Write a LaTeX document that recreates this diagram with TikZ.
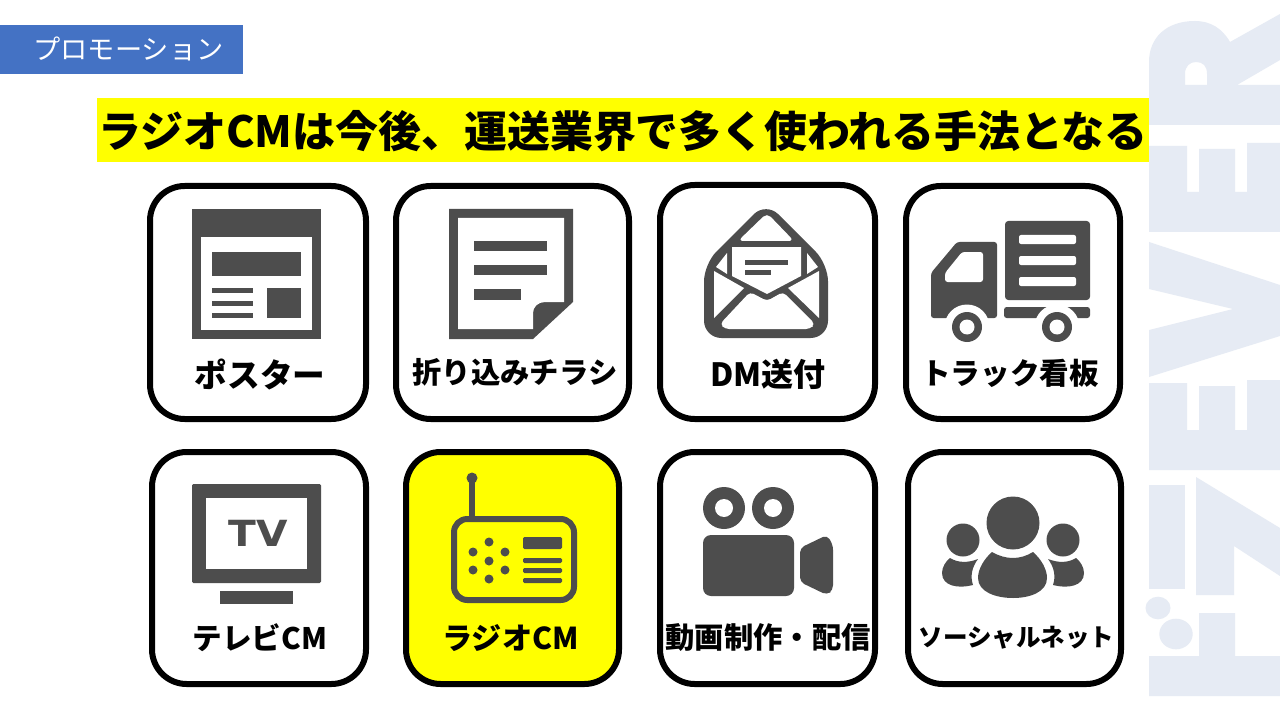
\documentclass[tikz,border=0pt]{standalone}
\usepackage{fontspec}
\setmainfont{Noto Sans CJK JP}
\newfontfamily\tvfont[FakeStretch=1.13]{DejaVu Sans}
\usetikzlibrary{positioning}
\definecolor{icongray}{HTML}{4D4D4D}
\definecolor{bannerblue}{HTML}{4472C4}
\definecolor{markyellow}{HTML}{FFFF00}
\definecolor{logopale}{HTML}{E6EBF4}
\newcommand{\sized}[1]{\fontsize{#1}{#1}\selectfont}
\tikzset{
	iconbox/.style={draw=black,line width=4.5pt,rounded corners=26pt,fill=white},
	cardlabel/.style={font=\bfseries,inner sep=0pt,text=black},
	ink/.style={fill=icongray,draw=none},
	hole/.style={fill=white,draw=none},
	logo/.style={fill=logopale,draw=none}
}
\begin{document}
\begin{tikzpicture}[x=0.75pt,y=-0.75pt]
\path[use as bounding box] (0,0) rectangle (1280,720);
\fill[white] (0,0) rectangle (1280,720);

\path[logo,even odd rule] (1149,125) -- (1280,125) -- (1280,85) -- (1237,85) -- (1280,60) -- (1280,14) -- (1230,42) .. controls (1222,28) and (1210,21) .. (1195,21) .. controls (1166,21) and (1149,38) .. (1149,62) -- cycle
	(1185,85) -- (1185,74) .. controls (1185,66) and (1190,62) .. (1196,62) .. controls (1203,62) and (1207,66) .. (1207,74) -- (1207,85) -- cycle;
\path[logo] (1149,232) -- (1149,146) -- (1187,146) -- (1187,192) -- (1199,192) -- (1199,149) -- (1235,149) -- (1235,192) -- (1247,192) -- (1247,143) -- (1280,143) -- (1280,232) -- cycle;
\path[logo] (1149,242) -- (1280,285) -- (1280,336) -- (1149,377) -- (1149,330) -- (1233,309) -- (1149,289) -- cycle;
\path[logo] (1149,470) -- (1149,383) -- (1187,383) -- (1187,430) -- (1199,430) -- (1199,386) -- (1235,386) -- (1235,430) -- (1247,430) -- (1247,380) -- (1280,380) -- (1280,470) -- cycle;
\path[logo] (1149,485) rectangle (1185,589);
\path[logo] (1196,477) -- (1280,528) -- (1280,576) -- (1234,546) -- (1234,595) -- (1196,595) -- cycle;
\path[logo] (1158,608) ellipse[x radius=12.5,y radius=11.3];
\path[logo] (1176,634) ellipse[x radius=16.7,y radius=15.3];
\path[logo] (1149,696) -- (1149,656) -- (1199,656) -- (1199,613) -- (1235,613) -- (1235,656) -- (1280,656) -- (1280,696) -- cycle;

\node[fill=bannerblue,minimum width=243*0.75pt,minimum height=49*0.75pt,inner sep=0pt,outer sep=0pt] (banner) at (121.5,49.5) {};
\node[text=white,font=\sized{20.4pt},inner sep=0pt] (bannertext) at (128.5,48.5) {プロモーション};
\node[fill=markyellow,minimum width=1052*0.75pt,minimum height=64*0.75pt,inner sep=0pt,outer sep=0pt] (headline) at (623,130) {};
\node[font=\bfseries\sized{32.2pt},inner sep=0pt,text=black] (headlinetext) at (623,131) {ラジオCMは今後、運送業界で多く使われる手法となる};

\foreach \cx/\cy/\w/\h/\n in {258/302.5/216/233/poster,512.5/302.5/233/233/flyer,767.5/302/215/234/mail,1013/302.5/214/233/truck,259/568/214/232/tv,767.5/568/215/232/movie,1014.5/568/213/232/sns}
	\node[iconbox,minimum width=\w*0.75pt,minimum height=\h*0.75pt] (\n) at (\cx,\cy) {};
\node[iconbox,fill=markyellow,minimum width=213*0.75pt,minimum height=232*0.75pt] (radio) at (512.5,568) {};

\foreach \x/\y/\s/\t/\n in {260/374/24.5/ポスター/Lposter,515/372/22/折り込みチラシ/Lflyer,768/374/24/DM送付/Lmail,1010/373/22.2/トラック看板/Ltruck,260/638/22.2/テレビCM/Ltv,510.5/638/22.6/ラジオCM/Lradio,768/638/22/動画制作・配信/Lmovie,1016.5/638/18.4/ソーシャルネット/Lsns}
	\node[cardlabel,font=\bfseries\sized{\s pt}] (\n) at (\x,\y) {\t};

\path[ink] (192,209) rectangle (321,339);
\path[hole] (201,237) rectangle (312,330);
\path[ink] (212,252) rectangle (301,276);
\foreach \y in {288,301,313}
	\path[ink] (212,\y) rectangle (253,\y+4.5);
\path[ink] (267,288) rectangle (301,318);

\path[ink] (449,209) -- (573,209) -- (573,302) -- (533,339) -- (449,339) -- cycle;
\path[hole] (458,218) -- (564,218) -- (564,302) -- (545,302) .. controls (538,302) and (533,307) .. (533,313) -- (533,329) -- (458,329) -- cycle;
\path[ink] (474,241) rectangle (547,251);
\path[ink] (474,265) rectangle (547,275);
\path[ink] (474,289) rectangle (521,300);

\path[ink,rounded corners=13pt] (766,202) -- (704,264) -- (704,338) -- (828,338) -- (828,264) -- cycle;
\path[hole,rounded corners=4pt] (738,241) -- (767,213) -- (794,241) -- cycle;
\path[hole] (716,267) -- (727,253) -- (727,274) -- cycle;
\path[hole] (818,267) -- (807,253) -- (807,274) -- cycle;
\path[hole] (732,247) -- (801,247) -- (801,276) -- (767,294) -- (732,276) -- cycle;
\path[ink] (745,260) rectangle (788,265);
\path[ink] (745,270) rectangle (771,275);
\path[hole] (714,271) -- (744,288) -- (714,318) -- cycle;
\path[hole] (819,271) -- (788,288) -- (819,318) -- cycle;
\path[hole,rounded corners=3pt] (720,324) -- (750,292) -- (767,301) -- (783,292) -- (815,324) -- (810,329) -- (725,329) -- cycle;

\path[ink,rounded corners=2.5pt] (1005,221) rectangle (1090,300);
\foreach \y in {235,256,277}
	\path[hole,rounded corners=1.5pt] (1019,\y) rectangle (1076,\y+9);
\path[ink,rounded corners=2pt] (931,273) -- (957,242) -- (997,242) -- (997,318) -- (931,318) -- cycle;
\path[hole,rounded corners=2pt] (945,273) -- (962,252) -- (983,252) -- (983,282) -- (945,282) -- cycle;
\path[ink,rounded corners=2pt] (1004,307) rectangle (1090,318);
\foreach \x in {967,1057} {
	\path[hole] (\x,327) circle[radius=22.5];
	\path[ink] (\x,327) circle[radius=15];
	\path[hole] (\x,327) circle[radius=7.5];
}

\path[ink,rounded corners=1pt] (192,484) rectangle (321,583);
\path[hole] (206,498) rectangle (307,569);
\path[ink] (220,591) rectangle (293,604);
\node[font=\tvfont\bfseries\sized{27pt},text=icongray,inner sep=0pt] (tvmark) at (258.5,533.5) {TV};

\draw[icongray,line width=4.5pt,rounded corners=10pt] (454,519) rectangle (574,600);
\draw[icongray,line width=4.5pt] (472,478) -- (472,516);
\path[ink] (472,478) circle[radius=5.5];
\foreach \x/\y in {489/542,473/552,505/552,489/561,473/570,505/570,489/579}
	\path[ink] (\x,\y) circle[radius=4.5];
\path[ink,rounded corners=1pt] (523,537) rectangle (562,549);
\foreach \y in {558,568,578}
	\path[ink,rounded corners=1pt] (523,\y) rectangle (562,\y+5);

\foreach \x in {724,773} {
	\path[ink] (\x,508) circle[radius=21];
	\path[hole] (\x,508) circle[radius=9];
}
\path[ink,rounded corners=6pt] (703,535) rectangle (794,596);
\path[ink,rounded corners=3.5pt] (800,548) -- (827,535) -- (833,545) -- (833,590) -- (827,595) -- (800,582) -- cycle;

\path[ink] (1013,523) circle[radius=26.5];
\path[ink] (992,552) .. controls (1006,560) and (1020,560) .. (1033,552) .. controls (1041,559) and (1047,569) .. (1047,578) .. controls (1047,592) and (1030,598) .. (1013,598) .. controls (996,598) and (978,592) .. (978,578) .. controls (978,569) and (984,559) .. (992,552) -- cycle;
\path[ink] (963,540) circle[radius=16.5];
\path[ink] (1063,540) circle[radius=16.5];
\path[ink] (950,558) .. controls (958,563) and (968,563) .. (978,559) .. controls (972,567) and (970,576) .. (973,585) .. controls (958,589) and (942,586) .. (942,573) .. controls (942,567) and (946,561) .. (950,558) -- cycle;
\path[ink] (1076,558) .. controls (1068,563) and (1058,563) .. (1048,559) .. controls (1054,567) and (1056,576) .. (1053,585) .. controls (1068,589) and (1084,586) .. (1084,573) .. controls (1084,567) and (1080,561) .. (1076,558) -- cycle;
\end{tikzpicture}
\end{document}
